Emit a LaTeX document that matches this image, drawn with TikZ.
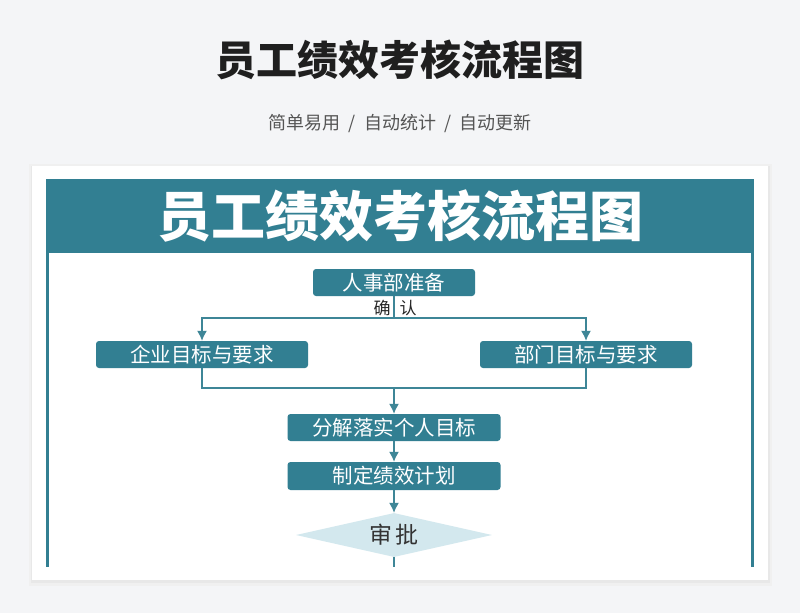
\documentclass[tikz,border=0pt]{standalone}
\usepackage{fontspec}
\usepackage{xcolor}
\usetikzlibrary{shapes.geometric,arrows.meta}
\newfontfamily\cjk{Noto Sans CJK SC}
\definecolor{pagebg}{HTML}{F4F5F7}
\definecolor{flowteal}{HTML}{327F92}
\definecolor{lineteal}{HTML}{3E8697}
\definecolor{diamondfill}{HTML}{D3E8EE}
\definecolor{subgray}{HTML}{555555}
\tikzset{>={Latex[width=10pt,length=10pt]}}
\tikzset{
  stepbox/.style={shape=rectangle,rounded corners=3pt,fill=flowteal,text=white,
    minimum height=27pt,inner sep=0pt,font=\cjk\fontsize{20.5}{22}\selectfont},
  checkbox/.style={shape=diamond,fill=diamondfill,text={black!80},aspect=4.4,
    minimum width=196pt,minimum height=44pt,inner sep=0pt,font=\cjk\fontsize{23}{25}\selectfont},
  flowline/.style={draw=lineteal,line width=1.4pt},
  sidelabel/.style={text={black!85},inner sep=0pt,font=\cjk\fontsize{17}{19}\selectfont}
}

\begin{document}
\begin{tikzpicture}[x=1pt,y=-1pt]

% page and card
\fill[pagebg] (0,0) rectangle (800,613);
\useasboundingbox (0,0) rectangle (800,613);
\fill[black!6] (29,164) rectangle (772,586);
\fill[black!9] (31,166) rectangle (770,583);
\fill[white] (32,166) rectangle (768,580);

% headings
\path (400,60) node [font=\cjk\bfseries\fontsize{41}{44}\selectfont,text={black!88}] (title) {员工绩效考核流程图};
\path (400,124) node [font=\cjk\fontsize{18}{20}\selectfont,text=subgray] (subtitle) {简单易用~~/~~自动统计~~/~~自动更新};

% frame with band
\fill[flowteal] (46,179) rectangle (754,253);
\draw[flowteal,line width=3pt] (47.5,253) -- (47.5,567);
\draw[flowteal,line width=3pt] (752.5,253) -- (752.5,567);
\path (400,216) node [font=\cjk\bfseries\fontsize{54}{58}\selectfont,text=white] (band) {员工绩效考核流程图};

% steps
\path (394,282.5) node [stepbox,minimum width=162pt] (hr) {人事部准备};
\path (202,354.5) node [stepbox,minimum width=212pt] (qiye) {企业目标与要求};
\path (586,354.5) node [stepbox,minimum width=212pt] (bumen) {部门目标与要求};
\path (394,427.5) node [stepbox,minimum width=213pt] (fenjie) {分解落实个人目标};
\path (394,476) node [stepbox,minimum width=213pt,minimum height=28pt] (zhiding) {制定绩效计划};
\path (394,535) node [checkbox] (shenpi) {审\,批};

\path (382,308) node [sidelabel] (queren1) {确};
\path (408,308) node [sidelabel] (queren2) {认};

\coordinate (split) at (394,318);
\coordinate (merge) at (394,388);
\coordinate (tail) at (394,567);

% connectors
\draw[flowline] (hr) -- (split);
\draw[flowline,->] (split) -| (qiye);
\draw[flowline,->] (split) -| (bumen);
\draw[flowline] (qiye) |- (merge);
\draw[flowline] (bumen) |- (merge);
\draw[flowline,->] (merge) -- (fenjie);
\draw[flowline,->] (fenjie) -- (zhiding);
\draw[flowline,->] (zhiding) -- (shenpi);
\draw[flowline] (shenpi) -- (tail);

\end{tikzpicture}
\end{document}
